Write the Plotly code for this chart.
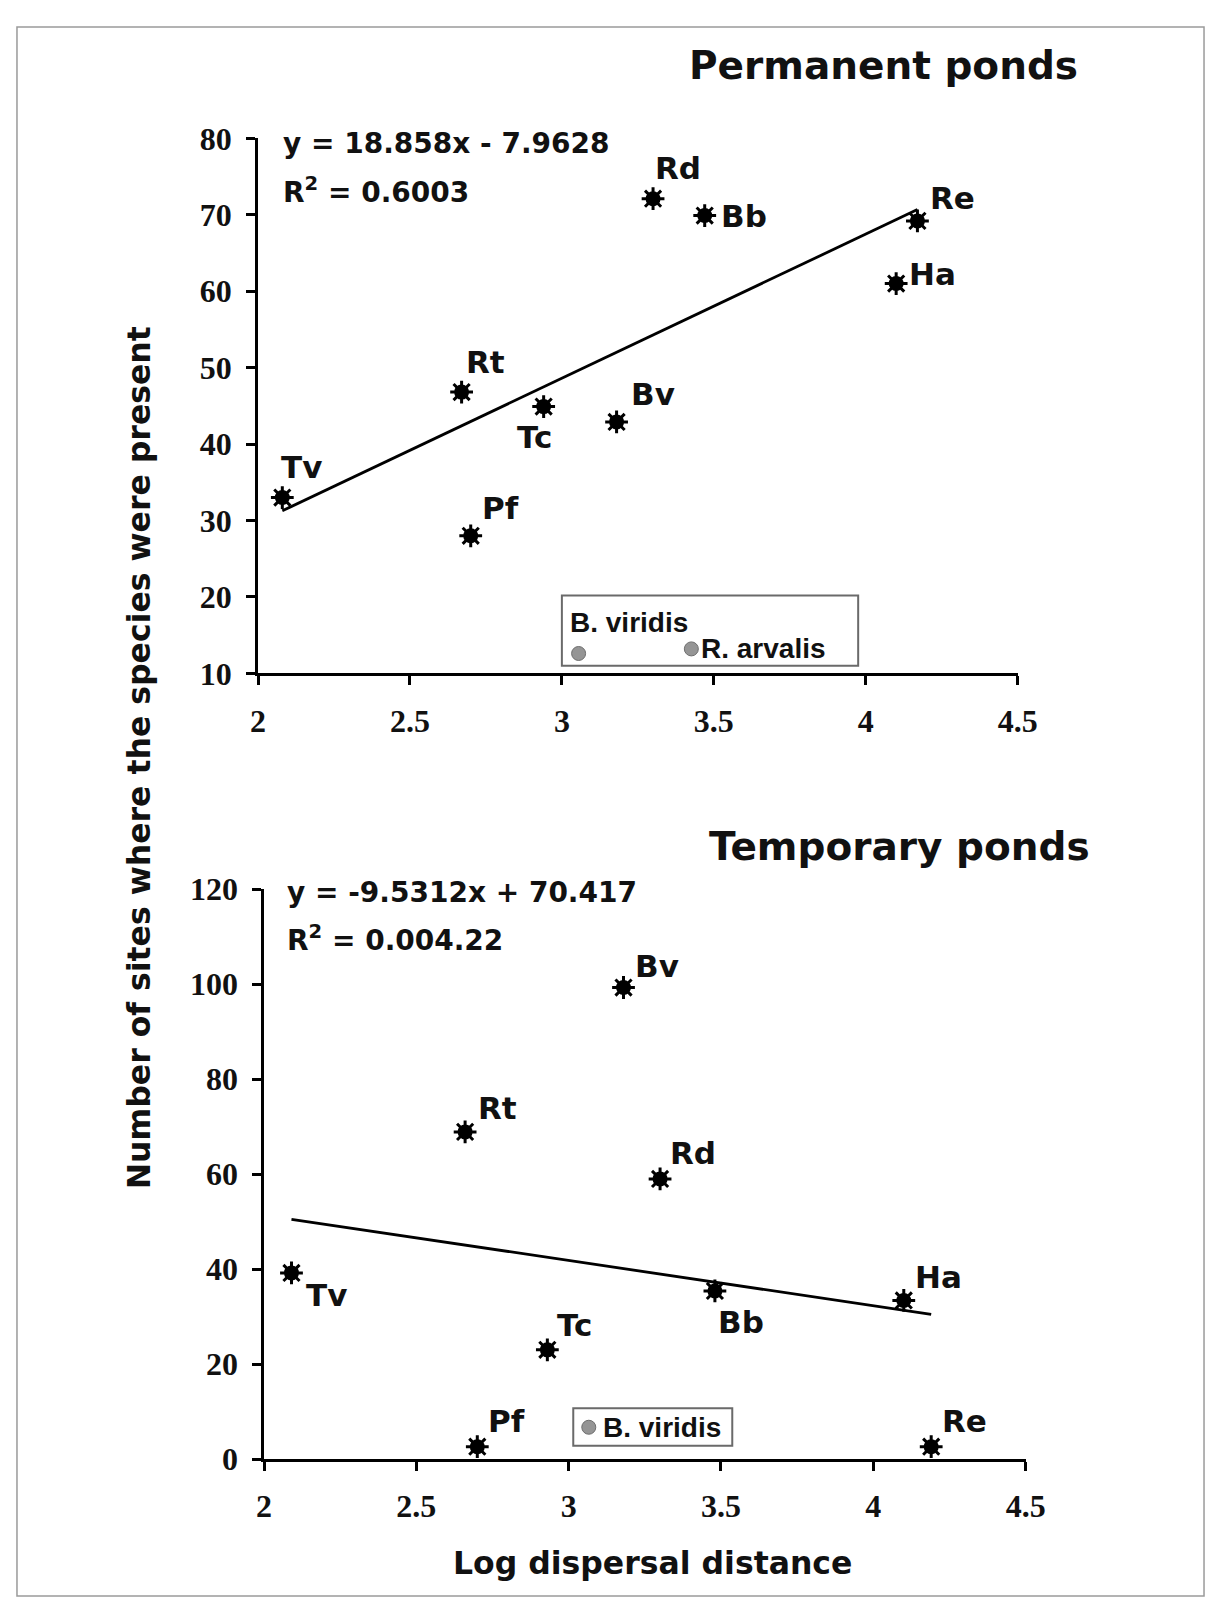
import plotly.graph_objects as go

# ---------------- data ----------------
species = ["Tv", "Rt", "Pf", "Tc", "Bv", "Rd", "Bb", "Ha", "Re"]

perm_logdist = [2.08, 2.67, 2.70, 2.94, 3.18, 3.30, 3.47, 4.10, 4.17]
perm_sites = [33.0, 46.8, 28.0, 44.9, 42.9, 72.1, 69.9, 61.0, 69.2]

temp_logdist = [2.09, 2.66, 2.70, 2.93, 3.18, 3.30, 3.48, 4.10, 4.19]
temp_sites = [39.2, 68.9, 2.6, 23.0, 99.3, 59.0, 35.4, 33.4, 2.6]

perm_fit = {"slope": 18.858, "intercept": -7.9628, "x_from": 2.08, "x_to": 4.17}
temp_fit = {"slope": -9.5312, "intercept": 70.417, "x_from": 2.09, "x_to": 4.19}

perm_extra_names = ["B. viridis", "R. arvalis"]
perm_extra_x = [3.055, 3.426]
perm_extra_y = [12.6, 13.2]

temp_extra_names = ["B. viridis"]
temp_extra_x = [3.066]
temp_extra_y = [6.7]

x_ticks = [2, 2.5, 3, 3.5, 4, 4.5]
x_tick_labels = ["2", "2.5", "3", "3.5", "4", "4.5"]
perm_y_ticks = [10, 20, 30, 40, 50, 60, 70, 80]
temp_y_ticks = [0, 20, 40, 60, 80, 100, 120]

# ---------------- styling / layout ----------------
W, H = 1217, 1607
BOLD = "DejaVu Sans"
SERIF = "Liberation Serif"

# label offsets (px) relative to each marker: (dx, dy) with dy positive = up
perm_label_off = [(19, 31), (24, 30), (30, 28), (-9, -30), (36, 28), (25, 31), (39, 0), (36, 10), (35, 23)]
temp_label_off = [(35, -22), (32, 24), (29, 26), (27, 25), (33, 22), (33, 26), (26, -31), (35, 23), (33, 26)]
# legend text positions (data units) for the grey species
perm_extra_text_pos = [(3.02, 16.7), (3.45, 13.3)]
temp_extra_text_pos = [(3.105, 6.7)]


def px_x(px):
    return px / W


def px_y(py):
    return 1 - py / H


fig = go.Figure()


def add_panel(xs, ys, fit, ex_x, ex_y, xa, ya):
    # regression line
    lx = [fit["x_from"], fit["x_to"]]
    ly = [fit["slope"] * v + fit["intercept"] for v in lx]
    fig.add_trace(go.Scatter(x=lx, y=ly, mode="lines", line=dict(color="black", width=2.8),
                             xaxis=xa, yaxis=ya, showlegend=False, hoverinfo="skip"))
    # species markers (filled core + serrated outline)
    fig.add_trace(go.Scatter(x=xs, y=ys, mode="markers",
                             marker=dict(symbol="circle", size=15, color="black"),
                             xaxis=xa, yaxis=ya, showlegend=False))
    fig.add_trace(go.Scatter(x=xs, y=ys, mode="markers",
                             marker=dict(symbol="asterisk-open", size=19, color="black",
                                         line=dict(color="black", width=3)),
                             xaxis=xa, yaxis=ya, showlegend=False, hoverinfo="skip"))
    # grey species
    fig.add_trace(go.Scatter(x=ex_x, y=ex_y, mode="markers",
                             marker=dict(symbol="circle", size=14, color="#959595",
                                         line=dict(color="#6e6e6e", width=1)),
                             xaxis=xa, yaxis=ya, showlegend=False))


add_panel(perm_logdist, perm_sites, perm_fit, perm_extra_x, perm_extra_y, "x", "y")
add_panel(temp_logdist, temp_sites, temp_fit, temp_extra_x, temp_extra_y, "x2", "y2")

annotations = []
label_font = dict(family=BOLD, size=31, color="#111111", weight="bold")
for name, x, y, (dx, dy) in zip(species, perm_logdist, perm_sites, perm_label_off):
    annotations.append(dict(x=x, y=y, xref="x", yref="y", text=name, showarrow=False,
                            xshift=dx, yshift=dy, font=label_font))
for name, x, y, (dx, dy) in zip(species, temp_logdist, temp_sites, temp_label_off):
    annotations.append(dict(x=x, y=y, xref="x2", yref="y2", text=name, showarrow=False,
                            xshift=dx, yshift=dy, font=label_font))

# legend-like boxes
legend_font = dict(family="Liberation Sans", size=28, color="#111111", weight="bold")
for name, (tx, ty) in zip(perm_extra_names, perm_extra_text_pos):
    annotations.append(dict(x=tx, y=ty, xref="x", yref="y", text=name, showarrow=False,
                            xanchor="left", yanchor="middle", font=legend_font))
for name, (tx, ty) in zip(temp_extra_names, temp_extra_text_pos):
    annotations.append(dict(x=tx, y=ty, xref="x2", yref="y2", text=name, showarrow=False,
                            xanchor="left", yanchor="middle", font=legend_font))

# equations
eq_font = dict(family=BOLD, size=28, color="#111111", weight="bold")
annotations += [
    dict(x=px_x(271), y=px_y(120), xref="paper", yref="paper", text="y = 18.858x - 7.9628",
         showarrow=False, xanchor="left", yanchor="middle", font=eq_font),
    dict(x=px_x(271), y=px_y(168), xref="paper", yref="paper", text="R<sup>2</sup> = 0.6003",
         showarrow=False, xanchor="left", yanchor="middle", font=eq_font),
    dict(x=px_x(275), y=px_y(886), xref="paper", yref="paper", text="y = -9.5312x + 70.417",
         showarrow=False, xanchor="left", yanchor="middle", font=eq_font),
    dict(x=px_x(275), y=px_y(933), xref="paper", yref="paper", text="R<sup>2</sup> = 0.004.22",
         showarrow=False, xanchor="left", yanchor="middle", font=eq_font),
]

# panel titles
title_font = dict(family=BOLD, size=39, color="#111111", weight="bold")
annotations += [
    dict(x=px_x(1089), y=px_y(40), xref="paper", yref="paper", text="Permanent ponds",
         showarrow=False, xanchor="right", yanchor="middle", font=title_font),
    dict(x=px_x(1101), y=px_y(839), xref="paper", yref="paper", text="Temporary ponds",
         showarrow=False, xanchor="right", yanchor="middle", font=title_font),
]

# axis titles
axis_title_font = dict(family=BOLD, size=31.5, color="#111111", weight="bold")
annotations += [
    dict(x=px_x(126), y=px_y(749), xref="paper", yref="paper",
         text="Number of sites where the species were present", textangle=-90,
         showarrow=False, xanchor="center", yanchor="middle", font=axis_title_font),
    dict(x=px_x(652), y=px_y(1572), xref="paper", yref="paper",
         text="Log dispersal distance",
         showarrow=False, xanchor="center", yanchor="middle", font=axis_title_font),
]

shapes = [
    # legend boxes
    dict(type="rect", xref="x", yref="y", x0=3.0, x1=3.975, y0=11.0, y1=20.2,
         line=dict(color="#6a6a6a", width=2), fillcolor="rgba(0,0,0,0)"),
    dict(type="rect", xref="x2", yref="y2", x0=3.015, x1=3.537, y0=2.8, y1=10.7,
         line=dict(color="#6a6a6a", width=2), fillcolor="rgba(0,0,0,0)"),
    # figure frame
    dict(type="rect", xref="paper", yref="paper", x0=px_x(1), x1=px_x(1216), y0=px_y(1), y1=px_y(1606),
         line=dict(color="#9a9a9a", width=1.5), fillcolor="rgba(0,0,0,0)"),
]

xtick_font = dict(family=SERIF, size=32, color="#111111", weight="bold")
ytick_font = dict(family=SERIF, size=32, color="#111111", weight="bold")

common_x = dict(range=[2, 4.5], tickvals=x_ticks, ticktext=x_tick_labels, showgrid=False,
                zeroline=False, showline=True, linecolor="black", linewidth=2.5,
                ticks="outside", ticklen=9, tickwidth=2.5, tickcolor="black",
                tickfont=xtick_font, ticklabelstandoff=8, fixedrange=True)
common_y = dict(showgrid=False, zeroline=False, showline=True, linecolor="black", linewidth=2.5,
                ticks="outside", ticklen=9, tickwidth=2.5, tickcolor="black",
                tickfont=ytick_font, ticklabelstandoff=8, fixedrange=True)

fig.update_layout(
    width=W, height=H,
    margin=dict(l=0, r=0, t=0, b=0),
    paper_bgcolor="white", plot_bgcolor="white",
    showlegend=False,
    xaxis=dict(common_x, domain=[px_x(247.7), px_x(1025.3)], anchor="y"),
    yaxis=dict(common_y, domain=[px_y(662.2), px_y(114.9)], range=[10, 80],
               tickvals=perm_y_ticks, anchor="x"),
    xaxis2=dict(common_x, domain=[px_x(253.9), px_x(1033.4)], anchor="y2"),
    yaxis2=dict(common_y, domain=[px_y(1465.9), px_y(883.0)], range=[0, 120],
                tickvals=temp_y_ticks, anchor="x2"),
    annotations=annotations,
    shapes=shapes,
)

fig.write_html("out.html")
